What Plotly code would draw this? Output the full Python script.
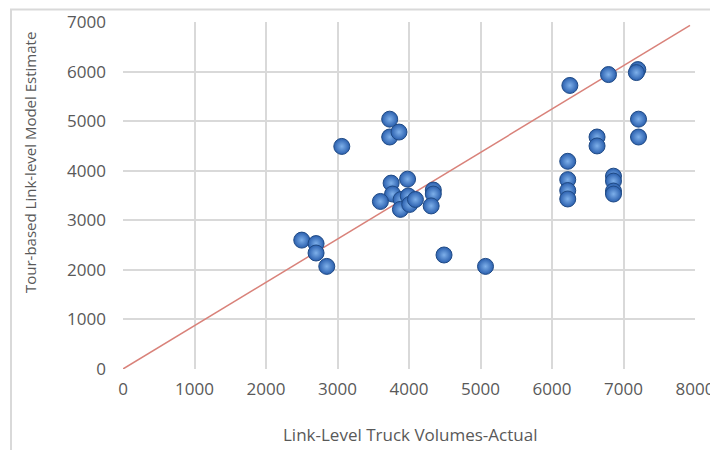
import plotly.graph_objects as go

actual = [2500, 2700, 2700, 2850, 3060, 3730, 3730, 3860, 3750, 3770, 3600, 3890, 3880,
          3980, 3990, 4010, 4090, 4340, 4340, 4310, 4490, 5070, 6250, 6220, 6220, 6220,
          6220, 6630, 6630, 6790, 6860, 6860, 6860, 6860, 7200, 7180, 7210, 7210]
estimate = [2600, 2530, 2340, 2070, 4490, 5040, 4680, 4780, 3750, 3530, 3380, 3420, 3220,
            3830, 3490, 3320, 3420, 3610, 3530, 3290, 2300, 2070, 5720, 4190, 3820, 3600,
            3430, 4680, 4500, 5940, 3890, 3790, 3590, 3530, 6040, 5980, 5040, 4680]
line_x = [0, 7930]
line_y = [0, 6930]
x_ticks = [0, 1000, 2000, 3000, 4000, 5000, 6000, 7000, 8000]
y_ticks = [0, 1000, 2000, 3000, 4000, 5000, 6000, 7000]

# page offset of the figure (default body margin)
OFF = 8
PL, PR, PT, PB = 123 - OFF, 695 - OFF, 22 - OFF, 369 - OFF
W, H = 718 - OFF, 450 - OFF
pw, ph = PR - PL, PB - PT

def px(xp):
    return (xp - OFF - PL) / pw

def py(yp):
    return (PB - (yp - OFF)) / ph

fig = go.Figure()
fig.add_trace(go.Scatter(x=line_x, y=line_y, mode="lines",
                         line=dict(color="#D9827A", width=1.5), hoverinfo="skip"))
fig.add_trace(go.Scatter(x=actual, y=estimate, mode="markers",
                         marker=dict(size=16, color="#2A5FAE",
                                     gradient=dict(type="radial", color="#7EB0EA"),
                                     line=dict(color="#1F4A85", width=1))))

tickfont = dict(family="Open Sans", size=17, color="#595959")
fig.update_layout(
    width=W, height=H,
    margin=dict(l=PL, r=W - PR, t=PT, b=H - PB),
    paper_bgcolor="white", plot_bgcolor="white",
    showlegend=False,
    xaxis=dict(range=[0, 8000], tickvals=x_ticks, showgrid=True, gridcolor="#D9D9D9",
               gridwidth=1.5, zeroline=False, showline=False, ticks="", automargin=False,
               tickfont=tickfont, ticklabelstandoff=8),
    yaxis=dict(range=[0, 7000], tickvals=y_ticks, showgrid=True, gridcolor="#D9D9D9",
               gridwidth=1.5, zeroline=False, showline=False, ticks="", automargin=False,
               tickfont=tickfont, ticklabelstandoff=16),
    annotations=[
        dict(text="Link-Level Truck Volumes-Actual", xref="paper", yref="paper",
             x=px(410), y=py(434), xanchor="center", yanchor="middle", showarrow=False,
             font=dict(family="Open Sans", size=17, color="#595959")),
        dict(text="Tour-based Link-level Model Estimate", xref="paper", yref="paper",
             x=px(30), y=py(163), xanchor="center", yanchor="middle", showarrow=False,
             textangle=-90, font=dict(family="Open Sans", size=15, color="#595959")),
    ],
    shapes=[
        dict(type="line", xref="paper", yref="paper",
             x0=px(10), x1=px(720), y0=py(9.5), y1=py(9.5),
             line=dict(color="#D9D9D9", width=2)),
        dict(type="line", xref="paper", yref="paper",
             x0=px(11), x1=px(11), y0=py(9.5), y1=py(452),
             line=dict(color="#D9D9D9", width=2)),
    ],
)
fig.write_html("out.html")
